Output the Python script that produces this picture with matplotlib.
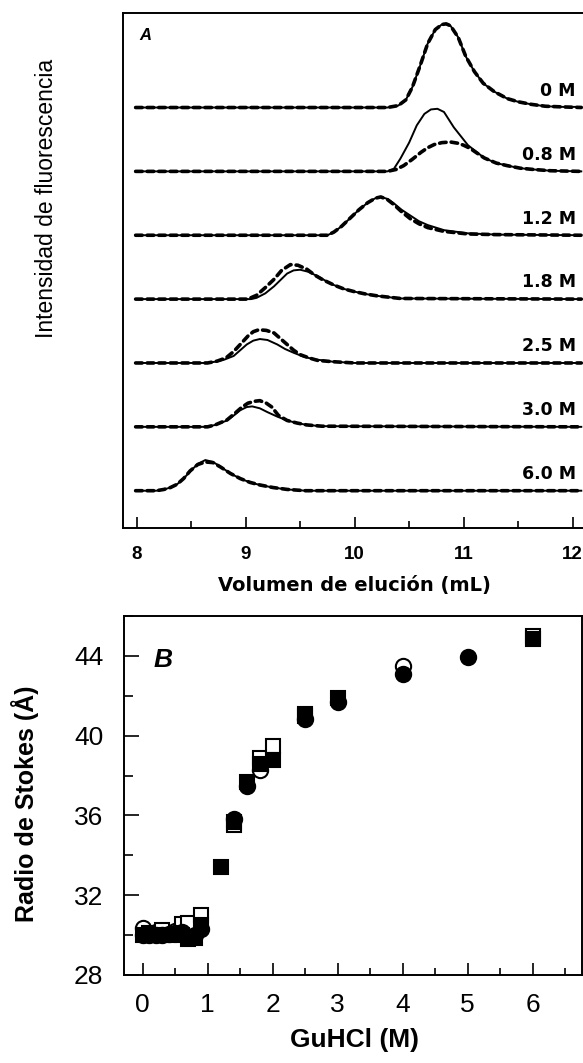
import matplotlib
matplotlib.use("Agg")
import numpy as np
import matplotlib.pyplot as plt
from matplotlib.ticker import MultipleLocator

# =========================
# DATA - panel A (elution profiles)
# =========================
conc_labels = ["0 M", "0.8 M", "1.2 M", "1.8 M", "2.5 M", "3.0 M", "6.0 M"]
offsets = [6, 5, 4, 3, 2, 1, 0]

solid_x = [
    [7.99, 10.30, 10.40, 10.47, 10.53, 10.60, 10.67, 10.74, 10.80, 10.84, 10.88, 10.95, 11.02, 11.10, 11.18, 11.28, 11.40, 11.50, 11.62, 11.75, 11.90, 12.08],
    [7.99, 10.30, 10.36, 10.42, 10.50, 10.57, 10.64, 10.70, 10.76, 10.82, 10.91, 11.04, 11.19, 11.30, 11.40, 11.52, 11.64, 11.80, 12.08],
    [7.99, 9.75, 9.81, 9.88, 9.96, 10.04, 10.12, 10.19, 10.24, 10.30, 10.36, 10.43, 10.51, 10.59, 10.67, 10.82, 11.04, 11.30, 12.08],
    [7.99, 9.05, 9.10, 9.18, 9.26, 9.32, 9.38, 9.44, 9.50, 9.57, 9.66, 9.73, 9.81, 9.90, 9.99, 10.10, 10.21, 10.42, 12.08],
    [7.99, 8.65, 8.72, 8.80, 8.89, 8.95, 9.01, 9.07, 9.13, 9.20, 9.29, 9.36, 9.44, 9.53, 9.62, 9.80, 10.00, 12.08],
    [7.99, 8.65, 8.72, 8.83, 8.90, 8.95, 9.01, 9.06, 9.13, 9.20, 9.29, 9.38, 9.47, 9.56, 9.70, 12.08],
    [7.99, 8.18, 8.25, 8.31, 8.37, 8.43, 8.49, 8.56, 8.63, 8.70, 8.77, 8.86, 8.95, 9.04, 9.13, 9.25, 9.38, 9.55, 12.08],
]
solid_y = [
    [0, 0, 0.03, 0.12, 0.32, 0.65, 1.00, 1.22, 1.30, 1.31, 1.28, 1.10, 0.80, 0.56, 0.38, 0.25, 0.14, 0.09, 0.05, 0.02, 0.01, 0.01],
    [0, 0, 0.04, 0.20, 0.45, 0.72, 0.90, 0.97, 0.98, 0.93, 0.69, 0.41, 0.21, 0.13, 0.09, 0.05, 0.03, 0.01, 0],
    [0, 0, 0.05, 0.14, 0.27, 0.40, 0.51, 0.58, 0.60, 0.57, 0.50, 0.40, 0.31, 0.22, 0.16, 0.08, 0.03, 0.01, 0],
    [0, 0, 0.02, 0.09, 0.20, 0.30, 0.40, 0.45, 0.46, 0.43, 0.36, 0.29, 0.22, 0.16, 0.12, 0.08, 0.05, 0.01, 0],
    [0, 0, 0.02, 0.05, 0.11, 0.20, 0.29, 0.35, 0.375, 0.36, 0.29, 0.22, 0.16, 0.10, 0.06, 0.02, 0, 0],
    [0, 0, 0.03, 0.10, 0.19, 0.26, 0.31, 0.32, 0.29, 0.23, 0.16, 0.10, 0.06, 0.03, 0.01, 0],
    [0, 0, 0.02, 0.05, 0.10, 0.19, 0.30, 0.42, 0.48, 0.45, 0.375, 0.27, 0.19, 0.13, 0.09, 0.05, 0.02, 0, 0],
]

dash_x = [
    [7.99, 10.30, 10.40, 10.47, 10.53, 10.60, 10.67, 10.74, 10.80, 10.84, 10.88, 10.95, 11.02, 11.10, 11.18, 11.28, 11.40, 11.50, 11.62, 11.75, 11.90, 12.08],
    [7.99, 10.30, 10.38, 10.45, 10.53, 10.61, 10.67, 10.73, 10.80, 10.88, 10.95, 11.00, 11.06, 11.12, 11.19, 11.30, 11.40, 11.52, 11.64, 11.80, 12.08],
    [7.99, 9.75, 9.81, 9.88, 9.96, 10.04, 10.12, 10.19, 10.24, 10.30, 10.36, 10.43, 10.51, 10.59, 10.67, 10.82, 11.04, 11.30, 12.08],
    [7.99, 9.02, 9.10, 9.18, 9.26, 9.33, 9.41, 9.48, 9.56, 9.63, 9.70, 9.81, 9.90, 9.99, 10.10, 10.21, 10.42, 12.08],
    [7.99, 8.65, 8.74, 8.82, 8.89, 8.95, 9.02, 9.07, 9.12, 9.19, 9.26, 9.32, 9.38, 9.44, 9.50, 9.58, 9.66, 9.80, 10.00, 12.08],
    [7.99, 8.65, 8.72, 8.83, 8.90, 8.96, 9.02, 9.08, 9.13, 9.19, 9.24, 9.30, 9.38, 9.47, 9.56, 9.70, 12.08],
    [7.99, 8.18, 8.25, 8.31, 8.37, 8.43, 8.49, 8.56, 8.63, 8.70, 8.77, 8.86, 8.95, 9.04, 9.13, 9.25, 9.38, 9.55, 12.08],
]
dash_y = [
    [0, 0, 0.03, 0.12, 0.32, 0.65, 1.00, 1.22, 1.30, 1.31, 1.28, 1.10, 0.80, 0.56, 0.38, 0.25, 0.14, 0.09, 0.05, 0.02, 0.01, 0.0],
    [0, 0, 0.03, 0.09, 0.19, 0.30, 0.37, 0.42, 0.45, 0.46, 0.44, 0.41, 0.36, 0.29, 0.21, 0.13, 0.09, 0.05, 0.03, 0.01, 0],
    [0, 0, 0.05, 0.14, 0.27, 0.40, 0.51, 0.58, 0.60, 0.56, 0.48, 0.37, 0.26, 0.18, 0.12, 0.06, 0.02, 0.01, 0],
    [0, 0, 0.06, 0.18, 0.31, 0.45, 0.54, 0.53, 0.47, 0.38, 0.31, 0.22, 0.16, 0.12, 0.08, 0.05, 0.01, 0],
    [0, 0, 0.03, 0.08, 0.18, 0.29, 0.42, 0.49, 0.52, 0.51, 0.47, 0.38, 0.29, 0.20, 0.13, 0.08, 0.04, 0.02, 0, 0],
    [0, 0, 0.03, 0.11, 0.21, 0.30, 0.37, 0.40, 0.41, 0.37, 0.31, 0.18, 0.10, 0.06, 0.03, 0.01, 0],
    [0, 0, 0.02, 0.05, 0.10, 0.19, 0.31, 0.41, 0.45, 0.44, 0.37, 0.27, 0.19, 0.13, 0.09, 0.05, 0.02, 0, 0],
]

# =========================
# DATA - panel B (Stokes radius vs GuHCl)
# =========================
open_circ_x = [0, 0.2, 0.5, 0.8, 1.8, 4.0]
open_circ_y = [30.35, 30.15, 30.2, 30.3, 38.3, 43.5]

open_sq_x = [0.1, 0.3, 0.6, 0.7, 0.9, 1.4, 1.8, 2.0, 2.5, 6.0]
open_sq_y = [30.1, 30.25, 30.55, 30.6, 31.0, 35.5, 38.9, 39.5, 41.1, 45.0]

fill_circ_x = [0, 0.1, 0.2, 0.3, 0.4, 0.5, 0.6, 0.8, 0.9, 1.4, 1.6, 2.5, 3.0, 4.0, 5.0]
fill_circ_y = [30.0, 30.0, 30.0, 30.0, 30.05, 30.1, 30.15, 30.0, 30.3, 35.8, 37.5, 40.85, 41.7, 43.1, 43.95]

fill_sq_x = [0, 0.2, 0.4, 0.6, 0.7, 0.8, 0.9, 1.2, 1.4, 1.6, 1.8, 2.0, 2.5, 3.0, 6.0]
fill_sq_y = [30.0, 30.0, 30.0, 30.0, 29.8, 29.85, 30.5, 33.4, 35.65, 37.7, 38.6, 38.8, 41.0, 41.9, 44.85]

# =========================
# FIGURE
# =========================
plt.rcParams["font.family"] = ["Liberation Sans", "DejaVu Sans"]

W, H = 583, 1063
fig = plt.figure(figsize=(W / 100, H / 100), dpi=100)


def px_axes(left, top, right, bottom):
    return fig.add_axes([left / W, 1 - bottom / H, (right - left) / W, (bottom - top) / H])


# ---- panel A ----
axA = px_axes(123, 13, 584, 528)
for i in range(len(conc_labels)):
    off = offsets[i]
    axA.plot(solid_x[i], np.array(solid_y[i]) + off, color="black", lw=1.4)
    axA.plot(dash_x[i], np.array(dash_y[i]) + off, color="black", lw=2.6,
             ls=(0, (1.8, 1.4)), dash_capstyle="round")
    axA.text(12.03, off + 0.12, conc_labels[i], ha="right", va="bottom",
             fontsize=12.5, fontweight="bold", family="DejaVu Sans")

axA.set_xlim(7.874, 12.105)
axA.set_ylim(-0.584, 7.48)
axA.set_yticks([])
axA.xaxis.set_major_locator(MultipleLocator(1))
axA.xaxis.set_minor_locator(MultipleLocator(0.5))
axA.tick_params(axis="x", which="major", direction="in", length=8, width=1.2,
                pad=13, labelsize=13.5)
axA.tick_params(axis="x", which="minor", direction="in", length=5, width=1.2)
for lbl in axA.get_xticklabels():
    lbl.set_fontweight("bold")
axA.spines["right"].set_visible(False)
for s in ["left", "top", "bottom"]:
    axA.spines[s].set_linewidth(1.4)

fig.text(145 / W, 1 - 36 / H, "A", ha="center", va="center", fontsize=12,
         fontweight="bold", style="italic")
fig.text(47 / W, 1 - 198 / H, "Intensidad de fluorescencia", rotation=90,
         ha="center", va="center", fontsize=16.5)
fig.text(354 / W, 1 - 585 / H, "Volumen de elución (mL)", ha="center", va="center",
         fontsize=14, fontweight="bold", family="DejaVu Sans")

# ---- panel B ----
axB = px_axes(124, 616, 582, 975)
axB.plot(open_circ_x, open_circ_y, "o", ms=11, mfc="white", mec="black", mew=1.5)
axB.plot(open_sq_x, open_sq_y, "s", ms=10, mfc="white", mec="black", mew=1.5)
axB.plot(fill_circ_x, fill_circ_y, "o", ms=11, mfc="black", mec="black", mew=1.5)
axB.plot(fill_sq_x, fill_sq_y, "s", ms=10, mfc="black", mec="black", mew=1.5)

axB.set_xlim(-0.285, 6.76)
axB.set_ylim(28, 46)
axB.xaxis.set_major_locator(MultipleLocator(1))
axB.xaxis.set_minor_locator(MultipleLocator(0.5))
axB.yaxis.set_major_locator(MultipleLocator(4))
axB.yaxis.set_minor_locator(MultipleLocator(2))
axB.tick_params(axis="x", which="major", direction="in", length=9, width=1.2,
                pad=13, labelsize=19)
axB.tick_params(axis="x", which="minor", direction="in", length=5, width=1.2)
axB.tick_params(axis="y", which="major", direction="in", length=11, width=1.2,
                pad=15, labelsize=19)
axB.tick_params(axis="y", which="minor", direction="in", length=6.5, width=1.2)
for s in axB.spines.values():
    s.set_linewidth(1.4)

fig.text(163 / W, 1 - 660 / H, "B", ha="center", va="center", fontsize=19,
         fontweight="bold", style="italic")
fig.text(25 / W, 1 - 804 / H, "Radio de Stokes (Å)", rotation=90, ha="center",
         va="center", fontsize=18, fontweight="bold")
fig.text(354 / W, 1 - 1040 / H, "GuHCl (M)", ha="center", va="center",
         fontsize=19, fontweight="bold")

fig.savefig("out.png", dpi=100)
